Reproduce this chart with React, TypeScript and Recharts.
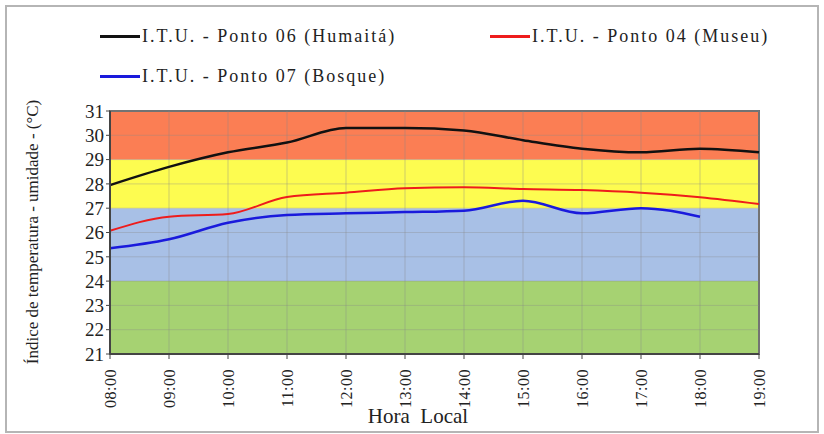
import { LineChart, Line, XAxis, YAxis, ReferenceArea, ReferenceLine } from 'recharts';

const hours = ["08:00", "09:00", "10:00", "11:00", "12:00", "13:00", "14:00", "15:00", "16:00", "17:00", "18:00", "19:00"];
const humaita = [27.95, 28.7, 29.3, 29.7, 30.3, 30.3, 30.2, 29.8, 29.45, 29.3, 29.45, 29.3];
const museu = [26.07, 26.65, 26.76, 27.46, 27.64, 27.82, 27.86, 27.79, 27.75, 27.64, 27.45, 27.17];
const bosque = [25.35, 25.72, 26.4, 26.72, 26.79, 26.84, 26.9, 27.31, 26.79, 27.0, 26.65, null];
const yTicks = [21, 22, 23, 24, 25, 26, 27, 28, 29, 30, 31];

// comfort bands behind the lines
const bands = [
  { from: 21, to: 24, color: "#a6d272" },
  { from: 24, to: 27, color: "#a8c0e6" },
  { from: 27, to: 29, color: "#fdfc50" },
  { from: 29, to: 31, color: "#fb7e54" },
];

const data = hours.map((h, i) => ({
  hour: h,
  humaita: humaita[i],
  museu: museu[i],
  bosque: bosque[i],
}));

const serif = "'Liberation Serif', 'Times New Roman', Times, serif";

function HourTick(props: any) {
  const { x, y, payload } = props;
  return (
    <text
      x={x}
      y={y + 8}
      transform={`rotate(-90, ${x}, ${y + 8})`}
      textAnchor="end"
      dy="0.35em"
      fontSize={16}
      letterSpacing={0.5}
      fontFamily={serif}
      fill="#222"
    >
      {payload.value}
    </text>
  );
}

const legendItems = [
  { label: "I.T.U. - Ponto 06 (Humaitá)", color: "#111", left: 100, top: 26 },
  { label: "I.T.U. - Ponto 04 (Museu)", color: "#ee1c1c", left: 490, top: 26 },
  { label: "I.T.U. - Ponto 07 (Bosque)", color: "#1a1adc", left: 100, top: 66 },
];

export default function App() {
  return (
    <div style={{ position: "absolute", left: 0, top: 0, width: 824, height: 434, background: "#fff", fontFamily: serif }}>
      <div style={{ position: "absolute", left: 5, top: 5, width: 810, height: 424, border: "2px solid #b5b5b5" }} />
      {legendItems.map((it) => (
        <div key={it.label} style={{ position: "absolute", left: it.left, top: it.top, display: "flex", alignItems: "center", fontSize: 18, letterSpacing: 2, color: "#222" }}>
          <span style={{ display: "inline-block", width: 40, height: 3, background: it.color, marginRight: 2 }} />
          <span>{it.label}</span>
        </div>
      ))}
      <div style={{ position: "absolute", left: 0, top: 0 }}>
        <LineChart width={824} height={434} data={data} margin={{ top: 111, right: 65, left: 58, bottom: 30 }}>
          {bands.map((b) => (
            <ReferenceArea key={b.from} y1={b.from} y2={b.to} fill={b.color} fillOpacity={1} stroke="none" ifOverflow="visible" />
          ))}
          {yTicks.map((t) => (
            <ReferenceLine key={"y" + t} y={t} stroke="#8a8a8a" strokeOpacity={0.35} />
          ))}
          {hours.map((h) => (
            <ReferenceLine key={"x" + h} x={h} stroke="#8a8a8a" strokeOpacity={0.4} />
          ))}
          <ReferenceArea x1="08:00" x2="19:00" y1={21} y2={31} fill="none" stroke="#6e6e6e" strokeWidth={2} />
          <XAxis
            dataKey="hour"
            interval={0}
            tick={<HourTick />}
            tickLine={{ stroke: "#444" }}
            tickSize={5}
            axisLine={{ stroke: "#444", strokeWidth: 2 }}
            height={50}
          />
          <YAxis
            domain={[21, 31]}
            ticks={yTicks}
            interval={0}
            width={52}
            tickSize={4}
            tickLine={{ stroke: "#444" }}
            axisLine={{ stroke: "#444", strokeWidth: 2 }}
            tick={{ fontSize: 19, fontFamily: serif, fill: "#222" }}
          />
          <Line type="monotone" dataKey="humaita" stroke="#111" strokeWidth={2.5} dot={false} isAnimationActive={false} />
          <Line type="monotone" dataKey="museu" stroke="#ee1c1c" strokeWidth={2} dot={false} isAnimationActive={false} />
          <Line type="monotone" dataKey="bosque" stroke="#1a1adc" strokeWidth={2.5} dot={false} isAnimationActive={false} />
        </LineChart>
      </div>
      <div style={{ position: "absolute", left: 0, top: 404, width: 836, textAlign: "center", fontSize: 21, color: "#222" }}>
        Hora&nbsp;&nbsp;Local
      </div>
      <div
        style={{
          position: "absolute",
          left: 33,
          top: 232,
          transform: "translate(-50%, -50%) rotate(-90deg)",
          whiteSpace: "nowrap",
          fontSize: 17,
          color: "#222",
        }}
      >
        Índice de temperatura - umidade - (°C)
      </div>
    </div>
  );
}
